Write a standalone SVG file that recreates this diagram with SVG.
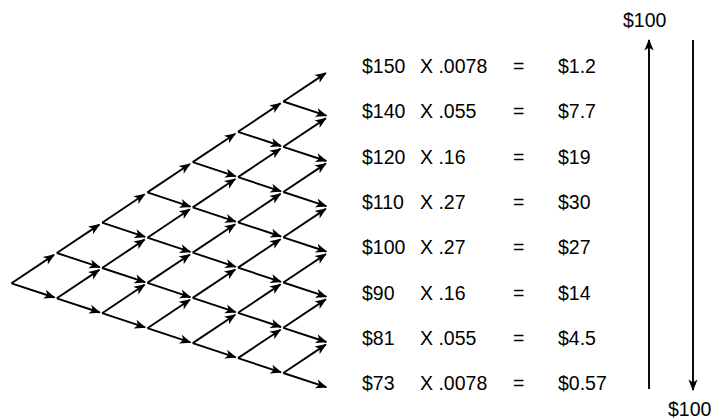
<svg xmlns="http://www.w3.org/2000/svg" width="713" height="419" viewBox="0 0 713 419">
<style>
.c path,.c line{stroke:#000;stroke-width:1.9;fill:none;marker-end:url(#ah)}
text{font-family:"Liberation Sans",Arial,sans-serif;font-size:19.5px;fill:#000}
</style>
<defs>
<marker id="ah" markerUnits="userSpaceOnUse" markerWidth="14" markerHeight="12" viewBox="-12 -6 14 12" refX="0" refY="0" orient="auto" overflow="visible">
<path d="M1,0 L-10.5,-4.6 L-7.5,0 L-10.5,4.6 Z" fill="#000" stroke="none"/>
</marker>
</defs>
<g id="connectors" class="c">
<path d="M11.5 283.3l42.5-28.4"/><path d="M11.5 283.3l43 14.2"/>
<path d="M56.8 298.3l42.5-28.4"/><path d="M56.8 298.3l43 14.2"/>
<path d="M56.8 253l42.5-28.4"/><path d="M56.8 253l43 14.2"/>
<path d="M102.1 313.2l42.5-28.4"/><path d="M102.1 313.2l43 14.2"/>
<path d="M102.1 268l42.5-28.4"/><path d="M102.1 268l43 14.2"/>
<path d="M102.1 222.7l42.5-28.4"/><path d="M102.1 222.7l43 14.2"/>
<path d="M147.4 328.2l42.5-28.4"/><path d="M147.4 328.2l43 14.2"/>
<path d="M147.4 282.9l42.5-28.4"/><path d="M147.4 282.9l43 14.2"/>
<path d="M147.4 237.7l42.5-28.4"/><path d="M147.4 237.7l43 14.2"/>
<path d="M147.4 192.4l42.5-28.4"/><path d="M147.4 192.4l43 14.2"/>
<path d="M192.7 343.1l42.5-28.4"/><path d="M192.7 343.1l43 14.2"/>
<path d="M192.7 297.9l42.5-28.4"/><path d="M192.7 297.9l43 14.2"/>
<path d="M192.7 252.6l42.5-28.4"/><path d="M192.7 252.6l43 14.2"/>
<path d="M192.7 207.4l42.5-28.4"/><path d="M192.7 207.4l43 14.2"/>
<path d="M192.7 162.1l42.5-28.4"/><path d="M192.7 162.1l43 14.2"/>
<path d="M238 358.1l42.5-28.4"/><path d="M238 358.1l43 14.2"/>
<path d="M238 312.8l42.5-28.4"/><path d="M238 312.8l43 14.2"/>
<path d="M238 267.6l42.5-28.4"/><path d="M238 267.6l43 14.2"/>
<path d="M238 222.3l42.5-28.4"/><path d="M238 222.3l43 14.2"/>
<path d="M238 177.1l42.5-28.4"/><path d="M238 177.1l43 14.2"/>
<path d="M238 131.8l42.5-28.4"/><path d="M238 131.8l43 14.2"/>
<path d="M283.3 373l42.5-28.4"/><path d="M283.3 373l43 14.2"/>
<path d="M283.3 327.8l42.5-28.4"/><path d="M283.3 327.8l43 14.2"/>
<path d="M283.3 282.5l42.5-28.4"/><path d="M283.3 282.5l43 14.2"/>
<path d="M283.3 237.3l42.5-28.4"/><path d="M283.3 237.3l43 14.2"/>
<path d="M283.3 192l42.5-28.4"/><path d="M283.3 192l43 14.2"/>
<path d="M283.3 146.8l42.5-28.4"/><path d="M283.3 146.8l43 14.2"/>
<path d="M283.3 101.5l42.5-28.4"/><path d="M283.3 101.5l43 14.2"/>
<line x1="649" y1="389" x2="649" y2="40"/>
<line x1="693" y1="40" x2="693" y2="390"/>
</g>
<g id="row1"><text x="362" y="73">$150</text><text x="420" y="73">X .0078</text><text x="513" y="73">=</text><text x="558" y="73">$1.2</text></g>
<g id="row2"><text x="362" y="118.3">$140</text><text x="420" y="118.3">X .055</text><text x="513" y="118.3">=</text><text x="558" y="118.3">$7.7</text></g>
<g id="row3"><text x="362" y="163.6">$120</text><text x="420" y="163.6">X .16</text><text x="513" y="163.6">=</text><text x="558" y="163.6">$19</text></g>
<g id="row4"><text x="362" y="208.9">$110</text><text x="420" y="208.9">X .27</text><text x="513" y="208.9">=</text><text x="558" y="208.9">$30</text></g>
<g id="row5"><text x="362" y="254.2">$100</text><text x="420" y="254.2">X .27</text><text x="513" y="254.2">=</text><text x="558" y="254.2">$27</text></g>
<g id="row6"><text x="362" y="299.5">$90</text><text x="420" y="299.5">X .16</text><text x="513" y="299.5">=</text><text x="558" y="299.5">$14</text></g>
<g id="row7"><text x="362" y="344.8">$81</text><text x="420" y="344.8">X .055</text><text x="513" y="344.8">=</text><text x="558" y="344.8">$4.5</text></g>
<g id="row8"><text x="362" y="390.1">$73</text><text x="420" y="390.1">X .0078</text><text x="513" y="390.1">=</text><text x="558" y="390.1">$0.57</text></g>
<g id="top-label"><text x="623" y="27">$100</text></g>
<g id="bottom-label"><text x="668" y="416">$100</text></g>
</svg>
